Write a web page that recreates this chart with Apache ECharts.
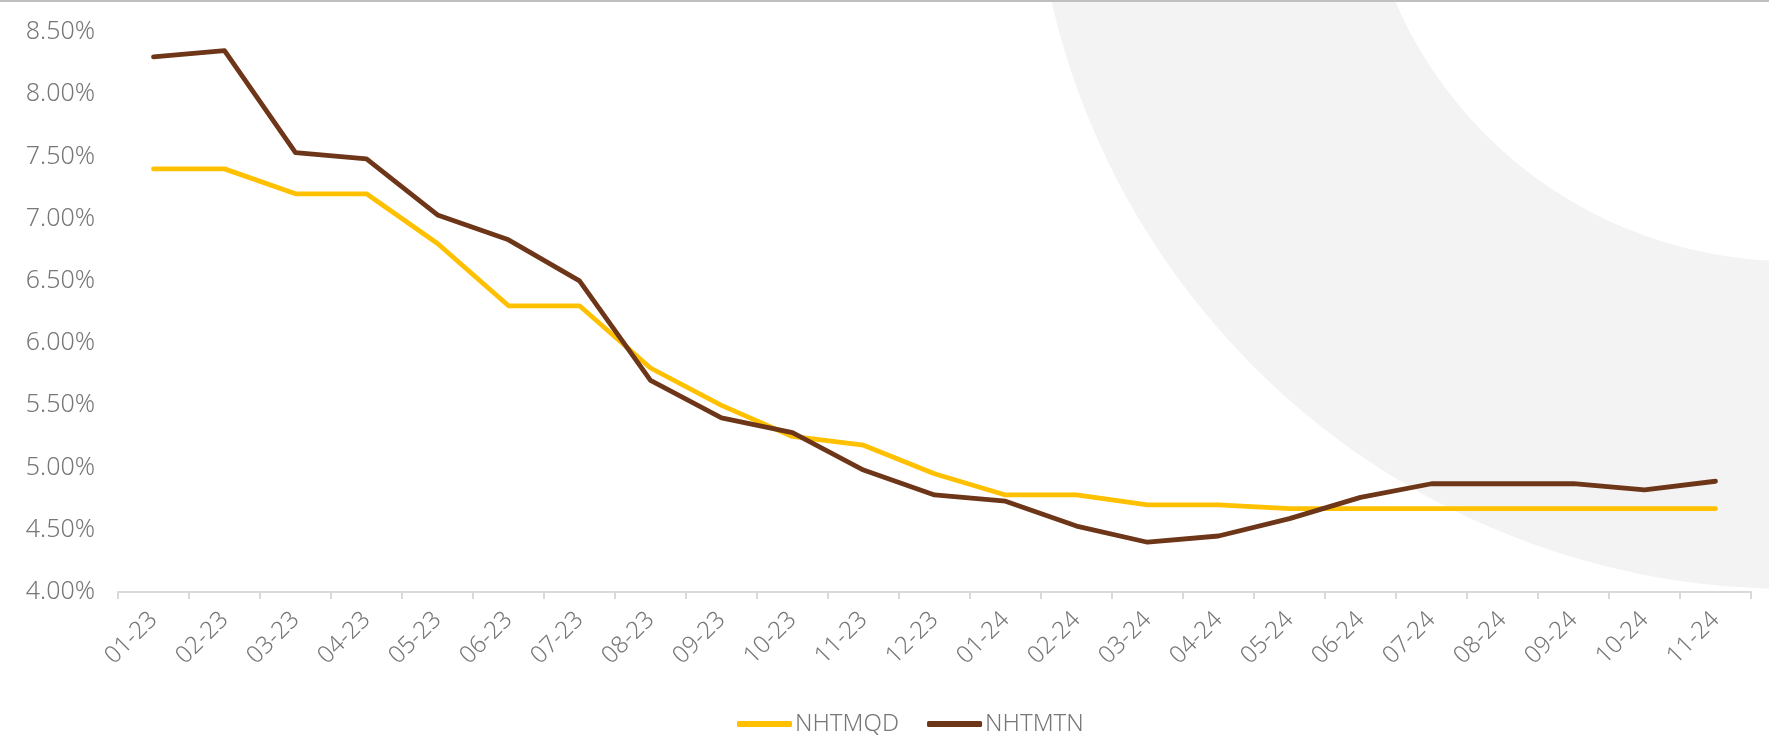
<!DOCTYPE html>
<html>
<head>
<meta charset="utf-8">
<script src="https://cdn.jsdelivr.net/npm/echarts@6/dist/echarts.min.js"></script>
<style>
html,body{margin:0;padding:0;background:#fff;}
#chart{width:1769px;height:736px;}
</style>
</head>
<body>
<div id="chart"></div>
<script>
const categories = ["01-23","02-23","03-23","04-23","05-23","06-23","07-23","08-23","09-23","10-23","11-23","12-23",
  "01-24","02-24","03-24","04-24","05-24","06-24","07-24","08-24","09-24","10-24","11-24"];
const nhtmqd = [7.40,7.40,7.20,7.20,6.80,6.30,6.30,5.80,5.50,5.25,5.18,4.95,4.78,4.78,4.70,4.70,4.67,4.67,4.67,4.67,4.67,4.67,4.67];
const nhtmtn = [8.30,8.35,7.53,7.48,7.03,6.83,6.50,5.70,5.40,5.28,4.98,4.78,4.73,4.53,4.40,4.45,4.59,4.76,4.87,4.87,4.87,4.82,4.89];
const seriesNames = ["NHTMQD","NHTMTN"];
const yMin = 4, yMax = 8.5, yStep = 0.5;

const FONT = "'Noto Sans', sans-serif";
const chart = echarts.init(document.getElementById('chart'));
chart.setOption({
  backgroundColor: '#ffffff',
  animation: false,
  graphic: [
    { type: 'ring', z: -10, silent: true,
      shape: { cx: 1790, cy: -169, r: 758, r0: 430 },
      style: { fill: '#f3f3f3' } },
    { type: 'rect', z: 10, silent: true,
      shape: { x: 0, y: 0, width: 1769, height: 2 },
      style: { fill: '#bfbfbf' } }
  ],
  grid: { left: 118, right: 18, top: 32, bottom: 144, containLabel: false },
  legend: {
    top: 707, left: 732,
    icon: 'roundRect', itemWidth: 55, itemHeight: 6, itemGap: 28,
    textStyle: { color: '#777777', fontSize: 24, fontFamily: FONT, fontWeight: 300, padding: [0, 0, 0, -2] },
    data: seriesNames
  },
  xAxis: {
    type: 'category', data: categories, boundaryGap: true,
    axisLine: { lineStyle: { color: '#d9d9d9', width: 2 } },
    axisTick: { show: true, length: 7, lineStyle: { color: '#d9d9d9', width: 2 } },
    axisLabel: { rotate: 45, color: '#777777', fontSize: 24, fontFamily: FONT, fontWeight: 300, margin: 24, interval: 0 }
  },
  yAxis: {
    type: 'value', min: yMin, max: yMax, interval: yStep,
    axisLine: { show: false }, axisTick: { show: false },
    splitLine: { show: false },
    axisLabel: { color: '#777777', fontSize: 25, fontFamily: FONT, fontWeight: 300, margin: 23,
      formatter: v => v.toFixed(2) + '%' }
  },
  series: [
    { name: seriesNames[0], type: 'line', data: nhtmqd, symbol: 'none',
      lineStyle: { color: '#ffc000', width: 4.8, cap: 'round', join: 'round' },
      itemStyle: { color: '#ffc000' } },
    { name: seriesNames[1], type: 'line', data: nhtmtn, symbol: 'none',
      lineStyle: { color: '#6e3618', width: 4.8, cap: 'round', join: 'round' },
      itemStyle: { color: '#6e3618' } }
  ]
});
</script>
</body>
</html>
